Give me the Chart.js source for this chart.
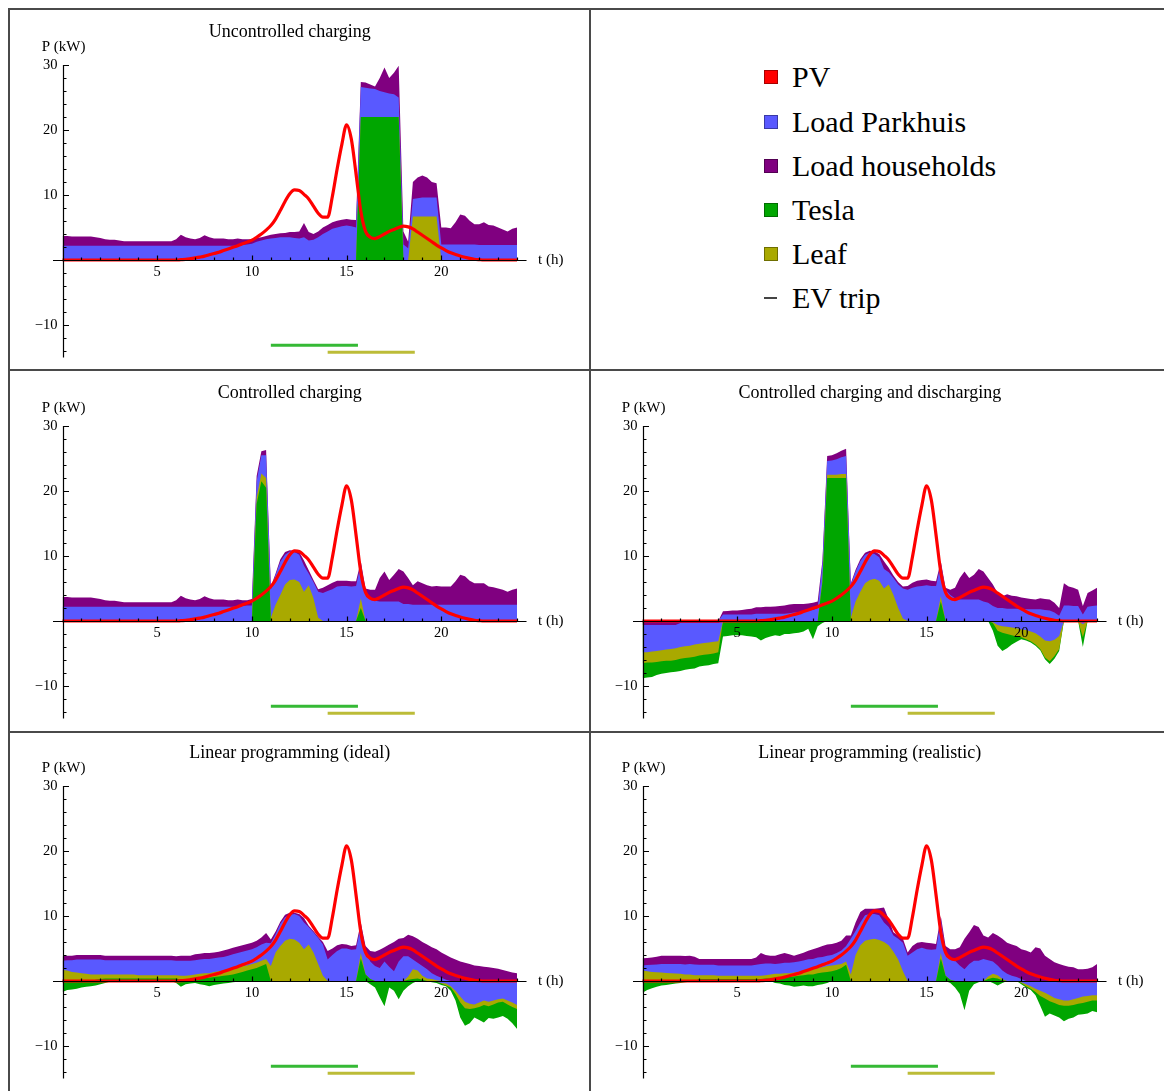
<!DOCTYPE html>
<html>
<head>
<meta charset="utf-8">
<script src="https://cdn.jsdelivr.net/npm/chart.js@4.4.1/dist/chart.umd.min.js"></script>
<style>
  body { margin: 0; background: #fff; }
  #page { position: relative; width: 1164px; height: 1091px; overflow: hidden; font-family: "Liberation Serif", "Times New Roman", serif; }
  .rule { position: absolute; background: #4a4a4a; }
  canvas { position: absolute; }
  .key { position: absolute; left: 764px; height: 32px; display: flex; align-items: center; font-size: 30px; color: #000; white-space: nowrap; }
  .key i { display: inline-block; width: 12px; height: 12px; border: 1px solid rgba(0,0,0,0.35); margin-right: 14px; }
  .key i.dash { width: 13px; height: 2px; border: 0; background: #444; margin-right: 15px; }
</style>
</head>
<body>
<div id="page">
  <div class="rule" style="left:8px;top:8px;width:1156px;height:2px"></div>
  <div class="rule" style="left:8px;top:8px;width:2px;height:1083px"></div>
  <div class="rule" style="left:589px;top:8px;width:2px;height:1083px"></div>
  <div class="rule" style="left:8px;top:369px;width:1156px;height:2px"></div>
  <div class="rule" style="left:8px;top:731px;width:1156px;height:2px"></div>

  <canvas id="unc" width="579" height="359" style="left:10px;top:10px"></canvas>
  <canvas id="ctl" width="579" height="360" style="left:10px;top:371px"></canvas>
  <canvas id="dis" width="573" height="360" style="left:591px;top:371px"></canvas>
  <canvas id="lpi" width="579" height="358" style="left:10px;top:733px"></canvas>
  <canvas id="lpr" width="573" height="358" style="left:591px;top:733px"></canvas>

  <div class="key" style="top:61px"><i style="background:#ff0000"></i>PV</div>
  <div class="key" style="top:106px"><i style="background:#5959ff"></i>Load Parkhuis</div>
  <div class="key" style="top:150px"><i style="background:#800080"></i>Load households</div>
  <div class="key" style="top:194px"><i style="background:#00a600"></i>Tesla</div>
  <div class="key" style="top:238px"><i style="background:#a9a900"></i>Leaf</div>
  <div class="key" style="top:282px"><i class="dash"></i>EV trip</div>
</div>

<script>
// ------------------ time grid (quarter hours) ------------------
const hours = [
  0, 0.25, 0.5, 0.75, 1, 1.25, 1.5, 1.75,
  2, 2.25, 2.5, 2.75, 3, 3.25, 3.5, 3.75,
  4, 4.25, 4.5, 4.75, 5, 5.25, 5.5, 5.75,
  6, 6.25, 6.5, 6.75, 7, 7.25, 7.5, 7.75,
  8, 8.25, 8.5, 8.75, 9, 9.25, 9.5, 9.75,
  10, 10.25, 10.5, 10.75, 11, 11.25, 11.5, 11.75,
  12, 12.25, 12.5, 12.75, 13, 13.25, 13.5, 13.75,
  14, 14.25, 14.5, 14.75, 15, 15.25, 15.5, 15.75,
  16, 16.25, 16.5, 16.75, 17, 17.25, 17.5, 17.75,
  18, 18.25, 18.5, 18.75, 19, 19.25, 19.5, 19.75,
  20, 20.25, 20.5, 20.75, 21, 21.25, 21.5, 21.75,
  22, 22.25, 22.5, 22.75, 23, 23.25, 23.5, 23.75,
  24
];

const pv = [
  0, 0, 0, 0, 0, 0, 0, 0,
  0, 0, 0, 0, 0, 0, 0, 0,
  0, 0, 0, 0, 0, 0, 0, 0,
  0, 0.05, 0.1, 0.2, 0.32, 0.45, 0.6, 0.8,
  1.0, 1.2, 1.45, 1.7, 1.95, 2.2, 2.5, 2.75,
  3.05, 3.5, 4.0, 4.6, 5.3, 6.3, 7.6, 9.0,
  10.2, 10.8, 10.7, 10.1, 9.4, 8.3, 7.2, 6.6,
  6.6, 9.8, 14.0, 17.8, 20.8, 18.6, 13.2, 7.5,
  4.4, 3.5, 3.3, 3.6, 4.0, 4.4, 4.7, 5.0,
  5.2, 5.1, 4.8, 4.3, 3.8, 3.3, 2.8, 2.3,
  1.85, 1.45, 1.1, 0.85, 0.62, 0.42, 0.25, 0.12,
  0.05, 0, 0, 0, 0, 0, 0, 0,
  0
];

// EV trips: start / end hour, drawn below the axis
const teslaTrip = [11.0, 15.6];
const leafTrip = [14.0, 18.6];
const tripLevels = [-13.1, -14.2];

const hourTicks = [5, 10, 15, 20];
const powerTicks = [-10, 10, 20, 30];

// ------------------ uncontrolled charging ------------------
const uncTesla = [
  0, 0, 0, 0, 0, 0, 0, 0,
  0, 0, 0, 0, 0, 0, 0, 0,
  0, 0, 0, 0, 0, 0, 0, 0,
  0, 0, 0, 0, 0, 0, 0, 0,
  0, 0, 0, 0, 0, 0, 0, 0,
  0, 0, 0, 0, 0, 0, 0, 0,
  0, 0, 0, 0, 0, 0, 0, 0,
  0, 0, 0, 0, 0, 0, 0, 22,
  22, 22, 22, 22, 22, 22, 22, 22,
  0, 0, 0, 0, 0, 0, 0, 0,
  0, 0, 0, 0, 0, 0, 0, 0,
  0, 0, 0, 0, 0, 0, 0, 0,
  0
];
const uncLeaf = [
  0, 0, 0, 0, 0, 0, 0, 0,
  0, 0, 0, 0, 0, 0, 0, 0,
  0, 0, 0, 0, 0, 0, 0, 0,
  0, 0, 0, 0, 0, 0, 0, 0,
  0, 0, 0, 0, 0, 0, 0, 0,
  0, 0, 0, 0, 0, 0, 0, 0,
  0, 0, 0, 0, 0, 0, 0, 0,
  0, 0, 0, 0, 0, 0, 0, 0,
  0, 0, 0, 0, 0, 0, 0, 0,
  0, 0, 6.7, 6.7, 6.7, 6.7, 6.7, 6.7,
  0, 0, 0, 0, 0, 0, 0, 0,
  0, 0, 0, 0, 0, 0, 0, 0,
  0
];
const uncPark = [
  2.2, 2.2, 2.2, 2.2, 2.2, 2.2, 2.2, 2.2,
  2.2, 2.2, 2.2, 2.2, 2.2, 2.2, 2.2, 2.2,
  2.2, 2.2, 2.2, 2.2, 2.2, 2.2, 2.2, 2.2,
  2.2, 2.2, 2.2, 2.2, 2.2, 2.2, 2.2, 2.2,
  2.2, 2.2, 2.2, 2.2, 2.2, 2.3, 2.3, 2.4,
  2.5, 2.8, 3.0, 3.2, 3.3, 3.4, 3.5, 3.5,
  3.5, 3.4, 3.3, 3.5, 3.0, 3.1, 3.5, 4.0,
  4.4, 4.8, 5.0, 5.2, 5.3, 5.2, 5.0, 4.6,
  4.5, 4.4, 4.3, 4.0, 3.8, 3.6, 3.5, 3.0,
  2.4, 1.8, 2.7, 2.8, 2.9, 2.9, 2.9, 2.9,
  2.4, 2.4, 2.4, 2.4, 2.4, 2.4, 2.4, 2.4,
  2.3, 2.3, 2.3, 2.3, 2.3, 2.3, 2.3, 2.3,
  2.3
];
const uncHouse = [
  1.5, 1.5, 1.4, 1.4, 1.4, 1.4, 1.4, 1.3,
  1.2, 1.0, 0.9, 0.9, 0.8, 0.7, 0.7, 0.7,
  0.7, 0.7, 0.7, 0.7, 0.7, 0.7, 0.7, 0.7,
  1.0, 1.7, 1.3, 1.1, 1.0, 1.2, 1.6, 1.3,
  1.1, 1.1, 1.1, 1.0, 1.0, 1.0, 0.9, 0.8,
  0.7, 0.6, 0.5, 0.5, 0.6, 0.6, 0.6, 0.65,
  0.8, 0.9, 1.1, 2.2, 1.3, 0.9, 0.9, 1.0,
  1.0, 1.0, 1.05, 1.0, 1.0, 1.0, 1.15, 0.8,
  0.8, 0.6, 0.4, 2.0, 3.8, 2.4, 3.3, 4.9,
  2.0, 1.0, 2.6, 3.2, 3.4, 3.1, 2.4, 2.2,
  2.6, 2.6, 2.5, 3.4, 4.6, 4.4, 3.65, 3.1,
  3.2, 3.5, 3.1, 3.0, 2.7, 2.4, 2.1, 2.5,
  2.7
];

// ------------------ controlled charging ------------------
const ctlTesla = [
  0, 0, 0, 0, 0, 0, 0, 0,
  0, 0, 0, 0, 0, 0, 0, 0,
  0, 0, 0, 0, 0, 0, 0, 0,
  0, 0, 0, 0, 0, 0, 0, 0,
  0, 0, 0, 0, 0, 0, 0, 0,
  0, 18, 21.5, 20.5, 0, 0, 0, 0,
  0, 0, 0, 0, 0, 0, 0, 0,
  0, 0, 0, 0, 0, 0, 0, 2.0,
  0, 0, 0, 0, 0, 0, 0, 0,
  0, 0, 0, 0, 0, 0, 0, 0,
  0, 0, 0, 0, 0, 0, 0, 0,
  0, 0, 0, 0, 0, 0, 0, 0,
  0
];
const ctlLeaf = [
  0, 0, 0, 0, 0, 0, 0, 0,
  0, 0, 0, 0, 0, 0, 0, 0,
  0, 0, 0, 0, 0, 0, 0, 0,
  0, 0, 0, 0, 0, 0, 0, 0,
  0, 0, 0, 0, 0, 0, 0, 0,
  0, 1.0, 1.2, 1.5, 0.5, 2.5, 4.0, 5.6,
  6.3, 6.4, 6.0, 4.5, 5.5, 3.5, 0.5, 0,
  0, 0, 0, 0, 0, 0, 0, 1.5,
  0, 0, 0, 0, 0, 0, 0, 0,
  0, 0, 0, 0, 0, 0, 0, 0,
  0, 0, 0, 0, 0, 0, 0, 0,
  0, 0, 0, 0, 0, 0, 0, 0,
  0
];
const ctlPark = [
  2.2, 2.2, 2.2, 2.2, 2.2, 2.2, 2.2, 2.2,
  2.2, 2.2, 2.2, 2.2, 2.2, 2.2, 2.2, 2.2,
  2.2, 2.2, 2.2, 2.2, 2.2, 2.2, 2.2, 2.2,
  2.2, 2.2, 2.2, 2.2, 2.2, 2.2, 2.2, 2.2,
  2.2, 2.2, 2.2, 2.2, 2.2, 2.3, 2.3, 2.4,
  2.4, 2.5, 2.8, 3.5, 4.3, 4.6, 5.1, 4.6,
  4.4, 4.2, 4.2, 4.0, 1.8, 2.5, 4.0, 4.3,
  4.6, 4.9, 5.3, 5.4, 5.4, 5.3, 5.4, 5.3,
  4.3, 3.6, 3.1, 3.0, 3.0, 3.0, 3.0, 3.0,
  2.6, 2.6, 2.5, 2.5, 2.5, 2.5, 2.5, 2.5,
  2.5, 2.5, 2.5, 2.5, 2.5, 2.5, 2.5, 2.5,
  2.5, 2.5, 2.5, 2.5, 2.5, 2.5, 2.5, 2.5,
  2.5
];
const ctlHouse = [
  1.5, 1.5, 1.4, 1.4, 1.4, 1.4, 1.4, 1.3,
  1.2, 1.0, 0.9, 0.9, 0.8, 0.7, 0.7, 0.7,
  0.7, 0.7, 0.7, 0.7, 0.7, 0.7, 0.7, 0.7,
  1.0, 1.7, 1.3, 1.1, 1.0, 1.2, 1.6, 1.3,
  1.1, 1.1, 1.1, 1.0, 1.0, 1.0, 0.9, 0.8,
  1.0, 0.8, 0.6, 0.8, 0.5, 0.2, 0.4, 0.4,
  0.2, 0.2, 0.4, 0.8, 0.5, 0.3, 0.4, 0.8,
  0.9, 1.0, 0.9, 0.8, 0.8, 0.8, 0.7, 0.4,
  0.7, 1.2, 1.7, 3.6, 4.6, 3.3, 4.1, 5.0,
  5.0, 4.0, 3.0, 3.6, 3.3, 3.0, 2.8, 2.9,
  2.8, 2.8, 2.8, 3.6, 4.6, 4.4, 3.7, 3.3,
  3.3, 3.3, 2.8, 2.7, 2.5, 2.3, 2.0, 2.3,
  2.5
];

// ------------------ controlled charging and discharging ------------------
const disTesla = [
  0, 0, 0, 0, 0, 0, 0, 0,
  0, 0, 0, 0, 0, 0, 0, 0,
  0, 0, 0, 0, 0, 0, 0, 0,
  0, 0, 0, 0, 0, 0, 0, 0,
  0, 0, 0, 0, 0, 0, 6, 22,
  22, 22, 22, 22, 0, 0, 0, 0,
  0, 0, 0, 0, 0, 0, 0, 0,
  0, 0, 0, 0, 0, 0, 0, 3.0,
  0, 0, 0, 0, 0, 0, 0, 0,
  0, 0, 0, 0, 0, 0, 0, 0,
  0, 0, 0, 0, 0, 0, 0, 0,
  0, 0, 0, 0, 0, 0, 0, 0,
  0
];
const disLeaf = [
  0, 0, 0, 0, 0, 0, 0, 0,
  0, 0, 0, 0, 0, 0, 0, 0,
  0, 0, 0, 0, 0, 0, 0, 0,
  0, 0, 0, 0, 0, 0, 0, 0,
  0, 0, 0, 0, 0, 0, 0.3, 0.5,
  0.5, 0.5, 0.6, 0.6, 0.5, 3.0, 4.5, 5.8,
  6.3, 6.5, 6.2, 5.0, 5.6, 4.0, 2.0, 0.4,
  0, 0, 0, 0, 0, 0, 0, 0.8,
  0, 0, 0, 0, 0, 0, 0, 0,
  0, 0, 0, 0, 0, 0, 0, 0,
  0, 0, 0, 0, 0, 0, 0, 0,
  0, 0, 0, 0, 0, 0, 0, 0,
  0
];
const disPark = [
  0, 0, 0, 0, 0, 0, 0, 0,
  0, 0, 0, 0, 0, 0, 0, 0,
  0, 1.0, 1.0, 1.0, 1.0, 1.0, 1.0, 1.0,
  1.1, 1.1, 1.1, 1.1, 1.1, 1.1, 1.1, 1.2,
  1.3, 1.4, 1.5, 1.6, 1.7, 2.0, 2.5, 2.1,
  2.2, 2.4, 2.6, 2.8, 5.1, 4.6, 4.7, 4.4,
  4.2, 3.8, 3.6, 3.0, 1.9, 2.6, 3.6, 4.6,
  4.8, 5.1, 5.3, 5.4, 5.5, 5.4, 5.4, 5.1,
  4.8, 4.0, 3.5, 3.3, 3.3, 3.3, 3.3, 3.3,
  3.0, 2.8, 2.3, 2.0, 2.0, 1.9, 1.9, 1.9,
  1.9, 1.8, 1.8, 1.8, 1.8, 1.7, 1.6, 1.3,
  0.8, 2.4, 2.4, 2.3, 2.3, 1.0, 2.2, 2.3,
  2.4
];
const disHouse = [
  0, 0, 0, 0, 0, 0, 0, 0,
  0, 0, 0, 0, 0, 0, 0, 0,
  0, 0.5, 0.55, 0.6, 0.6, 0.7, 0.8, 0.9,
  1.0, 1.0, 1.1, 1.1, 1.15, 1.2, 1.3, 1.35,
  1.3, 1.2, 1.1, 1.1, 1.1, 1.0, 0.5, 0.8,
  0.8, 0.9, 1.0, 1.1, 0.2, 0.3, 0.3, 0.3,
  0.3, 0.4, 0.5, 1.2, 0.7, 0.4, 0.4, 0.3,
  0.6, 0.8, 0.9, 0.9, 0.9, 0.8, 0.7, 0.3,
  0.3, 0.8, 1.6, 3.3, 4.3, 3.3, 3.8, 4.7,
  4.6, 3.8, 3.3, 2.3, 1.8, 2.2, 2.0, 1.9,
  1.7, 1.7, 1.6, 1.5, 1.7, 1.7, 1.7, 1.5,
  1.2, 3.4, 2.9, 2.8, 2.5, 1.3, 2.1, 2.4,
  2.7
];
const disHouseNeg = [
  -0.6, -0.6, -0.6, -0.6, -0.6, -0.6, -0.6, -0.6,
  -0.3, -0.3, -0.3, -0.3, -0.3, -0.3, -0.3, -0.3,
  -0.3, 0, 0, 0, 0, 0, 0, 0,
  0, 0, 0, 0, 0, 0, 0, 0,
  0, 0, 0, 0, 0, 0, 0, 0,
  0, 0, 0, 0, 0, 0, 0, 0,
  0, 0, 0, 0, 0, 0, 0, 0,
  0, 0, 0, 0, 0, 0, 0, 0,
  0, 0, 0, 0, 0, 0, 0, 0,
  0, 0, 0, 0, 0, 0, 0, 0,
  0, 0, 0, 0, 0, 0, 0, 0,
  0, 0, 0, 0, 0, 0, 0, 0,
  0
];
const disParkNeg = [
  -4.2, -4.2, -4.1, -4.0, -3.9, -3.8, -3.7, -3.6,
  -3.7, -3.6, -3.5, -3.3, -3.2, -3.1, -3.0, -2.9,
  -2.8, 0, 0, 0, 0, 0, 0, 0,
  0, 0, 0, 0, 0, 0, 0, 0,
  0, 0, 0, 0, 0, 0, 0, 0,
  0, 0, 0, 0, 0, 0, 0, 0,
  0, 0, 0, 0, 0, 0, 0, 0,
  0, 0, 0, 0, 0, 0, 0, 0,
  0, 0, 0, 0, 0, 0, 0, 0,
  0, 0, -0.2, -0.6, -0.8, -0.9, -1.0, -1.1,
  -1.3, -1.4, -1.6, -1.9, -2.4, -3.0, -3.1, -2.9,
  -2.3, 0, 0, 0, 0, -0.5, 0, 0,
  0
];
const disLeafNeg = [
  -1.7, -1.6, -1.7, -1.7, -1.7, -1.7, -1.8, -1.8,
  -1.8, -1.8, -1.8, -1.9, -1.8, -1.8, -1.8, -1.8,
  -1.7, 0, 0, 0, 0, 0, 0, 0,
  0, 0, 0, 0, 0, 0, 0, 0,
  0, 0, 0, 0, 0, 0, 0, 0,
  0, 0, 0, 0, 0, 0, 0, 0,
  0, 0, 0, 0, 0, 0, 0, 0,
  0, 0, 0, 0, 0, 0, 0, 0,
  0, 0, 0, 0, 0, 0, 0, 0,
  0, 0, -0.1, -0.9, -1.0, -1.1, -1.2, -1.3,
  -1.2, -1.4, -1.5, -1.7, -1.9, -2.6, -3.1, -2.5,
  -2.0, 0, 0, 0, 0, -2.0, 0, 0,
  0
];
const disTeslaNeg = [
  -2.3, -2.3, -2.2, -2.0, -1.9, -1.9, -1.8, -1.8,
  -1.9, -1.8, -1.8, -1.8, -1.7, -1.7, -1.7, -1.6,
  -1.7, -2.4, -2.3, -2.2, -2.2, -2.2, -2.3, -2.4,
  -2.5, -3.0, -2.6, -2.4, -2.2, -2.3, -2.0, -2.0,
  -1.9, -1.8, -1.6, -1.2, -2.8, -0.8, -0.3, 0,
  0, 0, 0, 0, 0, 0, 0, 0,
  0, 0, 0, 0, 0, 0, 0, 0,
  0, 0, 0, 0, 0, 0, 0, 0,
  0, 0, 0, 0, 0, 0, 0, 0,
  0, 0, -1.2, -2.3, -2.8, -2.2, -1.4, -0.8,
  -0.3, -0.2, -0.2, -0.2, -0.2, -0.3, -0.4, -0.4,
  -0.3, 0, 0, 0, 0, -1.5, 0, 0,
  0
];

// ------------------ linear programming (ideal) ------------------
const lpiTesla = [
  0, 0, 0, 0, 0, 0, 0, 0.2,
  0.3, 0.4, 0.4, 0.4, 0.4, 0.4, 0.4, 0.4,
  0.4, 0.4, 0.4, 0.4, 0.4, 0.4, 0.4, 0.4,
  0.4, 0.2, 0.2, 0.3, 0.4, 0.4, 0.5, 0.5,
  0.6, 0.7, 0.8, 0.9, 1.0, 1.2, 1.4, 1.6,
  1.8, 2.0, 2.3, 2.6, 0, 0, 0, 0,
  0, 0, 0, 0, 0, 0, 0, 0,
  0, 0, 0, 0, 0, 0, 0, 3.5,
  1.0, 0.3, 0, 0, 0, 0, 0, 0,
  0, 0.2, 0.3, 0.4, 0.2, 0, 0, 0,
  0, 0, 0, 0, 0, 0, 0, 0,
  0, 0, 0, 0, 0, 0, 0, 0,
  0
];
const lpiLeaf = [
  1.7, 1.6, 1.4, 1.3, 1.2, 1.1, 1.0, 0.8,
  0.7, 0.6, 0.6, 0.6, 0.6, 0.6, 0.6, 0.6,
  0.5, 0.5, 0.5, 0.5, 0.5, 0.5, 0.5, 0.5,
  0.5, 0.6, 0.6, 0.6, 0.6, 0.7, 0.7, 0.7,
  0.8, 0.8, 0.8, 0.9, 1.0, 0.9, 0.9, 0.8,
  0.8, 0.8, 0.8, 0.8, 2.3, 4.4, 5.4, 6.2,
  6.5, 6.4, 5.9, 4.9, 5.6, 4.4, 2.6, 0.8,
  0, 0, 0, 0, 0, 0, 0, 0.8,
  0, 0, 0, 0, 0, 0, 0, 0,
  0, 0.5, 1.5, 1.2, 0.6, 0.4, 0.3, 0.1,
  0, 0, 0, 0, 0, 0, 0, 0,
  0, 0, 0, 0, 0, 0, 0, 0,
  0
];
const lpiPark = [
  1.4, 1.6, 1.8, 2.0, 2.1, 2.2, 2.3, 2.3,
  2.3, 2.2, 2.2, 2.2, 2.2, 2.2, 2.2, 2.2,
  2.3, 2.3, 2.3, 2.3, 2.3, 2.3, 2.3, 2.3,
  2.2, 2.3, 2.3, 2.2, 2.2, 2.2, 2.2, 2.2,
  2.1, 2.1, 2.1, 2.1, 2.1, 2.2, 2.2, 2.3,
  2.3, 2.4, 2.5, 2.5, 3.5, 2.8, 3.4, 3.6,
  3.7, 3.9, 4.1, 4.1, 2.7, 3.1, 4.0, 4.8,
  3.3, 4.0, 4.6, 5.0, 5.0, 4.8, 4.9, 4.3,
  3.5, 2.7, 2.3, 2.0, 3.0, 2.2, 1.5, 3.0,
  3.8, 3.1, 1.5, 1.2, 1.5, 1.4, 0.9, 0.7,
  0.5, 0.2, 0, 0, 0, 0, 0, 0,
  0, 0, 0, 0, 0, 0, 0, 0,
  0
];
const lpiHouse = [
  0.7, 0.7, 0.7, 0.7, 0.7, 0.7, 0.7, 0.7,
  0.7, 0.7, 0.7, 0.7, 0.7, 0.7, 0.7, 0.7,
  0.7, 0.7, 0.7, 0.7, 0.7, 0.7, 0.7, 0.7,
  0.7, 0.8, 0.8, 0.8, 0.9, 0.9, 0.9, 0.9,
  0.9, 0.9, 1.0, 1.0, 1.0, 1.0, 1.0, 1.0,
  1.0, 1.0, 1.1, 1.5, 0.6, 0.4, 0.3, 0.4,
  0.3, 0.2, 0.3, 0.7, 0.2, 0.2, 0.2, 0.4,
  1.3, 1.0, 0.9, 0.7, 0.6, 0.6, 0.6, 0.4,
  0.9, 1.6, 2.2, 2.8, 2.2, 3.4, 4.5, 3.5,
  2.8, 3.3, 3.6, 3.7, 3.7, 3.8, 4.0, 4.1,
  3.9, 3.8, 3.6, 3.3, 3.0, 2.8, 2.6, 2.4,
  2.3, 2.2, 2.1, 2.0, 1.9, 1.7, 1.5, 1.3,
  1.2
];
const lpiParkNeg = [
  0, 0, 0, 0, 0, 0, 0, 0,
  0, 0, 0, 0, 0, 0, 0, 0,
  0, 0, 0, 0, 0, 0, 0, 0,
  0, 0, 0, 0, 0, 0, 0, 0,
  0, 0, 0, 0, 0, 0, 0, 0,
  0, 0, 0, 0, 0, 0, 0, 0,
  0, 0, 0, 0, 0, 0, 0, 0,
  0, 0, 0, 0, 0, 0, 0, 0,
  0, 0, 0, 0, 0, 0, 0, 0,
  0, 0, 0, 0, 0, 0, 0, -0.1,
  -0.3, -0.4, -0.8, -1.5, -2.4, -3.2, -3.5, -3.6,
  -3.3, -3.0, -3.2, -3.0, -2.8, -2.7, -3.0, -3.3,
  -3.7
];
const lpiLeafNeg = [
  0, 0, 0, 0, 0, 0, 0, 0,
  0, 0, 0, 0, 0, 0, 0, 0,
  0, 0, 0, 0, 0, 0, 0, 0,
  0, 0, 0, 0, 0, 0, 0, 0,
  0, 0, 0, 0, 0, 0, 0, 0,
  0, 0, 0, 0, 0, 0, 0, 0,
  0, 0, 0, 0, 0, 0, 0, 0,
  0, 0, 0, 0, 0, 0, 0, 0,
  0, 0, 0, 0, 0, 0, 0, 0,
  0, 0, 0, 0, 0, 0, 0, 0,
  -0.1, -0.3, -0.2, -0.5, -0.9, -1.0, -0.8, -0.6,
  -0.7, -0.7, -0.7, -0.6, -0.5, -0.5, -0.6, -0.7,
  -0.6
];
const lpiTeslaNeg = [
  -1.7, -1.4, -1.3, -1.2, -1.0, -0.9, -0.8, -0.7,
  -0.5, -0.3, -0.1, 0, 0, 0, 0, 0,
  0, 0, 0, 0, 0, 0, 0, 0,
  -0.3, -0.9, -0.5, -0.4, -0.3, -0.5, -0.6, -0.8,
  -0.6, -0.5, -0.4, -0.3, -0.2, -0.1, 0, 0,
  0, 0, 0, 0, 0, 0, 0, 0,
  0, 0, 0, 0, 0, 0, 0, 0,
  0, 0, 0, 0, 0, 0, 0, 0,
  0, -0.5, -1.0, -2.5, -3.9, -1.0, -1.5, -2.8,
  -1.5, -0.8, -0.3, 0, 0, 0, -0.2, -0.2,
  -0.2, -0.1, -0.5, -1.0, -2.3, -2.7, -2.2, -1.4,
  -2.0, -2.7, -1.8, -2.2, -2.3, -2.2, -2.2, -2.5,
  -3.1
];

// ------------------ linear programming (realistic) ------------------
const lprTesla = [
  0, 0, 0, 0, 0, 0, 0, 0,
  0, 0, 0, 0, 0.3, 0.3, 0.3, 0.3,
  0.3, 0.3, 0.3, 0.3, 0.3, 0.3, 0.3, 0.3,
  0.3, 0.3, 0.4, 0.4, 0.5, 0.5, 0.6, 0.6,
  0.7, 0.8, 0.9, 1.0, 1.0, 1.2, 1.3, 1.4,
  1.5, 1.7, 2.0, 2.5, 0, 0, 0, 0,
  0, 0, 0, 0, 0, 0, 0, 0,
  0, 0, 0, 0, 0, 0, 0, 3.5,
  0.8, 0.2, 0, 0, 0, 0, 0, 0,
  0, 0.3, 0.5, 0.4, 0.1, 0, 0, 0,
  0, 0, 0, 0, 0, 0, 0, 0,
  0, 0, 0, 0, 0, 0, 0, 0,
  0
];
const lprLeaf = [
  1.6, 1.5, 1.4, 1.35, 1.3, 1.25, 1.2, 1.15,
  1.1, 1.0, 1.0, 0.9, 0.6, 0.6, 0.6, 0.6,
  0.5, 0.5, 0.5, 0.5, 0.5, 0.5, 0.5, 0.5,
  0.5, 0.5, 0.5, 0.6, 0.6, 0.6, 0.6, 0.6,
  0.6, 0.6, 0.6, 0.7, 0.8, 0.8, 0.8, 0.9,
  0.9, 0.8, 0.6, 0.5, 1.0, 4.0, 5.5, 6.2,
  6.4, 6.5, 6.3, 6.0, 5.5, 4.5, 3.3, 1.5,
  0, 0, 0, 0, 0, 0, 0, 0.8,
  0, 0, 0, 0, 0, 0, 0, 0,
  0, 0.4, 0.6, 0.5, 0.2, 0, 0, 0,
  0, 0, 0, 0, 0, 0, 0, 0,
  0, 0, 0, 0, 0, 0, 0, 0,
  0
];
const lprPark = [
  0.8, 0.95, 1.1, 1.2, 1.3, 1.35, 1.4, 1.45,
  1.5, 1.55, 1.6, 1.65, 1.6, 1.6, 1.6, 1.6,
  1.6, 1.6, 1.6, 1.6, 1.6, 1.6, 1.6, 1.6,
  1.7, 1.8, 1.8, 1.7, 1.5, 1.6, 1.6, 1.6,
  1.6, 1.6, 1.65, 1.65, 1.6, 1.6, 1.6, 1.6,
  1.6, 1.8, 2.1, 2.4, 5.5, 3.7, 3.5, 3.9,
  3.9, 3.8, 3.8, 3.0, 2.8, 2.5, 3.2, 4.4,
  3.9, 4.4, 4.9, 5.1, 4.9, 4.8, 4.9, 5.2,
  3.6, 3.2, 3.1, 2.4, 1.8, 2.6, 3.1, 3.1,
  3.4, 2.5, 1.9, 1.5, 1.3, 1.1, 0.8, 0.6,
  0.3, 0, 0, 0, 0, 0, 0, 0,
  0, 0, 0, 0, 0, 0, 0, 0,
  0
];
const lprHouse = [
  1.1, 1.1, 1.1, 1.2, 1.3, 1.3, 1.3, 1.3,
  1.3, 1.3, 1.3, 1.2, 0.9, 0.9, 0.9, 0.9,
  1.0, 1.0, 1.0, 1.0, 1.0, 1.0, 1.0, 1.0,
  1.1, 1.7, 1.3, 1.2, 1.3, 1.4, 1.5, 1.3,
  1.0, 1.1, 1.2, 1.3, 1.5, 1.5, 1.7, 1.7,
  1.7, 1.6, 1.5, 1.6, 0.5, 1.3, 1.6, 1.0,
  0.8, 0.8, 1.1, 2.3, 1.2, 0.5, 0.5, 0.6,
  0.5, 1.0, 1.0, 0.9, 1.0, 1.0, 0.8, 0.5,
  1.0, 1.5, 1.8, 2.8, 4.7, 4.9, 5.5, 5.2,
  3.6, 3.5, 4.4, 4.6, 4.9, 4.8, 4.8, 4.8,
  4.6, 4.7, 4.4, 5.2, 5.0, 3.9, 3.4, 2.9,
  2.6, 2.4, 2.2, 2.1, 1.8, 1.8, 1.9, 2.1,
  2.6
];
const lprParkNeg = [
  0, 0, 0, 0, 0, 0, 0, 0,
  0, 0, 0, 0, 0, 0, 0, 0,
  0, 0, 0, 0, 0, 0, 0, 0,
  0, 0, 0, 0, 0, 0, 0, 0,
  0, 0, 0, 0, 0, 0, 0, 0,
  0, 0, 0, 0, 0, 0, 0, 0,
  0, 0, 0, 0, 0, 0, 0, 0,
  0, 0, 0, 0, 0, 0, 0, 0,
  0, 0, 0, 0, 0, 0, 0, 0,
  0, 0, 0, 0, 0, 0, 0, 0,
  -0.2, -0.5, -0.8, -1.2, -1.5, -1.8, -2.2, -2.6,
  -2.8, -3.0, -3.0, -2.8, -2.6, -2.4, -2.3, -2.2,
  -2.2
];
const lprLeafNeg = [
  0, 0, 0, 0, 0, 0, 0, 0,
  0, 0, 0, 0, 0, 0, 0, 0,
  0, 0, 0, 0, 0, 0, 0, 0,
  0, 0, 0, 0, 0, 0, 0, 0,
  0, 0, 0, 0, 0, 0, 0, 0,
  0, 0, 0, 0, 0, 0, 0, 0,
  0, 0, 0, 0, 0, 0, 0, 0,
  0, 0, 0, 0, 0, 0, 0, 0,
  0, 0, 0, 0, 0, 0, 0, 0,
  0, 0, 0, 0, 0, 0, 0, 0,
  -0.1, -0.3, -0.4, -0.5, -0.8, -0.9, -0.9, -0.8,
  -0.9, -0.8, -0.8, -0.9, -0.9, -1.0, -0.9, -0.8,
  -0.8
];
const lprTeslaNeg = [
  -1.8, -1.4, -1.1, -0.9, -0.7, -0.6, -0.5, -0.4,
  -0.3, -0.2, -0.1, 0, 0, 0, 0, 0,
  0, 0, 0, 0, 0, 0, 0, 0,
  0, 0, 0, 0, -0.3, -0.4, -0.6, -0.7,
  -0.9, -0.8, -0.7, -0.8, -0.8, -0.6, -0.5, -0.3,
  0, 0, 0, 0, 0, 0, 0, 0,
  0, 0, 0, 0, 0, 0, 0, 0,
  0, 0, 0, 0, 0, 0, 0, 0,
  0, -0.3, -1.0, -2.0, -4.5, -1.5, -0.5, -0.2,
  0, 0, -0.3, -0.7, -0.3, 0, 0, 0,
  -0.2, -0.2, -0.2, -0.5, -1.5, -2.8, -1.9, -1.9,
  -1.9, -2.4, -2.0, -1.9, -1.7, -1.7, -1.8, -1.6,
  -1.8
];

// ------------------ drawing ------------------
const COLORS = { tesla: '#00a600', leaf: '#a9a900', park: '#5959ff', house: '#800080', pv: '#ff0000' };
const PX_HOUR = 18.94, PX_KW = 6.5;
const SERIF = '"Liberation Serif", "Times New Roman", serif';

function series(values) {
  return values.map((v, i) => ({ x: hours[i], y: v }));
}

function band(values, color, stack) {
  return {
    data: series(values), stack: stack, fill: 'origin',
    backgroundColor: color, borderColor: 'rgba(0,0,0,0)', borderWidth: 0,
    pointRadius: 0, tension: 0
  };
}

function trip(span, level, color, stack) {
  return {
    data: [{ x: span[0], y: level }, { x: span[1], y: level }], stack: stack,
    borderColor: color, borderWidth: 3, pointRadius: 0, fill: false
  };
}

// Mathematica-like axes through the origin, with inward ticks
function axesPlugin(title) {
  return {
    id: 'mmaAxes',
    afterDatasetsDraw(chart) {
      const ctx = chart.ctx;
      const xs = chart.scales.x, ys = chart.scales.y;
      const X = v => xs.getPixelForValue(v);
      const Y = v => ys.getPixelForValue(v);
      const ax = Math.round(X(0)) + 0.5;
      const ay = Math.round(Y(0)) + 0.5;
      ctx.save();
      ctx.strokeStyle = '#000';
      ctx.lineWidth = 1.2;
      ctx.beginPath();
      ctx.moveTo(X(-0.5), ay); ctx.lineTo(X(24.5), ay);
      ctx.moveTo(ax, Y(30)); ctx.lineTo(ax, Y(-15));
      for (let h = 1; h <= 24; h++) {
        const px = Math.round(X(h)) + 0.5;
        ctx.moveTo(px, ay); ctx.lineTo(px, ay - (h % 5 === 0 ? 5 : 3));
      }
      for (let v = -14; v <= 30; v += 2) {
        if (v === 0) continue;
        const py = Math.round(Y(v)) + 0.5;
        ctx.moveTo(ax, py); ctx.lineTo(ax + (v % 10 === 0 ? 5.5 : 3), py);
      }
      ctx.stroke();

      ctx.fillStyle = '#000';
      ctx.textBaseline = 'middle';
      ctx.font = '14.5px ' + SERIF;
      ctx.textAlign = 'center';
      hourTicks.forEach(h => ctx.fillText(String(h), X(h), ay + 12));
      ctx.textAlign = 'right';
      powerTicks.forEach(v => ctx.fillText(v < 0 ? '\u2212' + Math.abs(v) : String(v), ax - 6, Y(v)));
      ctx.font = '15px ' + SERIF;
      ctx.textAlign = 'center';
      ctx.fillText('P (kW)', ax, Y(30) - 18);
      ctx.textAlign = 'left';
      ctx.fillText('t (h)', X(24) + 21, ay);
      ctx.font = '18px ' + SERIF;
      ctx.textAlign = 'center';
      ctx.fillText(title, X(12), Y(30) - 33);
      ctx.restore();
    }
  };
}

const panels = [
  { id: 'unc', title: 'Uncontrolled charging', left: 10, top: 10, x0: 62.5, y0: 260,
    up: [uncTesla, uncLeaf, uncPark, uncHouse], down: null },
  { id: 'ctl', title: 'Controlled charging', left: 10, top: 371, x0: 62.5, y0: 621,
    up: [ctlTesla, ctlLeaf, ctlPark, ctlHouse], down: null },
  { id: 'dis', title: 'Controlled charging and discharging', left: 591, top: 371, x0: 642.5, y0: 621,
    up: [disTesla, disLeaf, disPark, disHouse], down: [disHouseNeg, disParkNeg, disLeafNeg, disTeslaNeg] },
  { id: 'lpi', title: 'Linear programming (ideal)', left: 10, top: 733, x0: 62.5, y0: 981,
    up: [lpiTesla, lpiLeaf, lpiPark, lpiHouse], down: [null, lpiParkNeg, lpiLeafNeg, lpiTeslaNeg] },
  { id: 'lpr', title: 'Linear programming (realistic)', left: 591, top: 733, x0: 642.5, y0: 981,
    up: [lprTesla, lprLeaf, lprPark, lprHouse], down: [null, lprParkNeg, lprLeafNeg, lprTeslaNeg] }
];

panels.forEach(p => {
  const canvas = document.getElementById(p.id);
  const w = canvas.width, h = canvas.height;
  const padLeft = p.x0 - p.left;
  const padRight = w - (padLeft + 24 * PX_HOUR);
  const padTop = p.y0 - 30 * PX_KW - p.top;
  const padBottom = h - (p.y0 + 15 * PX_KW - p.top);

  // lower index is painted last, so PV and trips sit on top and the
  // inner bands cover the outer ones
  const datasets = [
    { data: series(pv), stack: 'pv', borderColor: COLORS.pv, borderWidth: 3.2, pointRadius: 0,
      fill: false, cubicInterpolationMode: 'monotone', clip: 4 },
    trip(teslaTrip, tripLevels[0], '#35b935', 'tripT'),
    trip(leafTrip, tripLevels[1], '#bcbc38', 'tripL'),
    band(p.up[0], COLORS.tesla, 'up'),
    band(p.up[1], COLORS.leaf, 'up'),
    band(p.up[2], COLORS.park, 'up'),
    band(p.up[3], COLORS.house, 'up')
  ];
  if (p.down) {
    const downColors = [COLORS.house, COLORS.park, COLORS.leaf, COLORS.tesla];
    p.down.forEach((vals, k) => { if (vals) datasets.push(band(vals, downColors[k], 'down')); });
  }

  new Chart(canvas, {
    type: 'line',
    data: { datasets: datasets },
    options: {
      responsive: false,
      animation: false,
      events: [],
      layout: { padding: { left: padLeft, right: padRight, top: padTop, bottom: padBottom } },
      plugins: { legend: { display: false }, tooltip: { enabled: false } },
      scales: {
        x: { type: 'linear', min: 0, max: 24, display: false },
        y: { min: -15, max: 30, display: false, stacked: true }
      }
    },
    plugins: [axesPlugin(p.title)]
  });
});
</script>
</body>
</html>
